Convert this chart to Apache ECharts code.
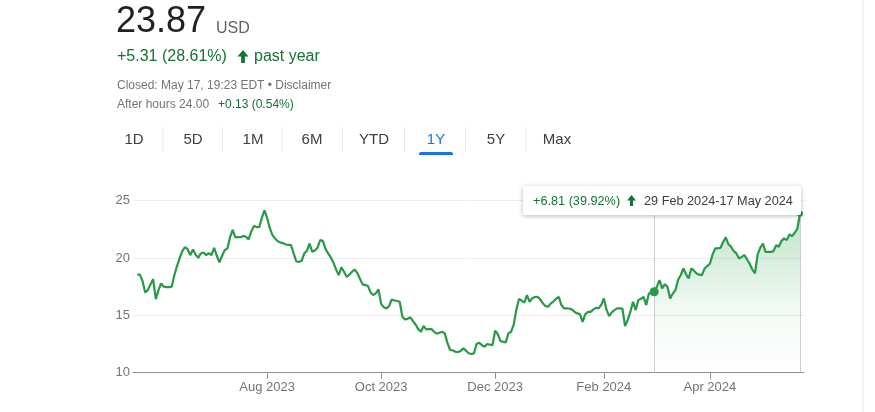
<!DOCTYPE html>
<html>
<head>
<meta charset="utf-8">
<style>
    html, body { margin: 0; padding: 0; background: #fff; }
    #main { width: 875px; height: 412px; }
</style>
</head>
<body>
<div id="main"></div>
<script src="https://cdn.jsdelivr.net/npm/echarts@6/dist/echarts.min.js"></script>
<script type="text/javascript">
    // closes, one per trading day, 19 May 2023 .. 17 May 2024
    var closes = [
        18.56, 18.55, 18.0, 17.0, 17.2, 17.7, 18.16, 16.42, 17.2, 17.79,
        17.5, 17.47, 17.47, 17.5, 18.5, 19.3, 20.0, 20.6, 20.95, 20.77,
        20.25, 20.75, 20.3, 20.02, 20.4, 20.49, 20.25, 20.43, 20.25, 20.89,
        20.2, 19.62, 20.2, 20.69, 20.84, 21.8, 22.46, 21.8, 21.82, 21.82,
        21.93, 21.85, 21.62, 22.3, 22.8, 22.7, 22.69, 23.5, 24.15, 23.5,
        22.6, 22.0, 21.7, 21.47, 21.35, 21.3, 21.18, 21.15, 21.12, 20.4,
        19.7, 19.67, 19.75, 20.4, 20.63, 21.27, 20.54, 20.65, 20.9, 21.56,
        21.5, 20.8, 20.4, 20.05, 19.6, 19.0, 18.51, 19.18, 18.8, 18.36,
        18.55, 18.8, 19.0, 18.7, 18.2, 17.7, 17.64, 17.58, 17.0, 16.77,
        16.92, 17.26, 16.0, 15.7, 15.61, 15.8, 16.39, 16.3, 16.25, 16.19,
        14.88, 14.65, 14.7, 14.83, 14.5, 14.2, 13.8, 13.57, 14.07, 13.78,
        13.8, 13.8, 13.57, 13.4, 13.48, 13.57, 13.43, 12.6, 11.98, 11.95,
        11.83, 11.8, 11.9, 12.12, 11.92, 11.7, 11.63, 11.69, 12.5, 12.61,
        12.4, 12.27, 12.5, 12.45, 12.41, 13.66, 13.37, 12.75, 12.7, 12.65,
        13.43, 13.57, 14.2, 15.5, 16.42, 16.3, 16.1, 16.77, 16.19, 16.5,
        16.6, 16.62, 16.4, 16.05, 15.8, 15.75, 16.05, 16.2, 16.45, 16.62,
        15.9, 15.61, 15.61, 15.6, 15.5, 15.3, 15.17, 15.11, 14.44, 15.1,
        15.31, 15.31, 15.5, 15.66, 15.61, 15.9, 16.48, 15.5, 14.94, 15.26,
        15.45, 15.61, 15.61, 15.6, 14.07, 14.6, 15.3, 16.19, 15.46, 16.33,
        16.45, 16.62, 15.9, 16.92, 16.95, 17.06, 17.5, 18.07, 17.35, 17.72,
        17.49, 16.48, 16.9, 17.2, 18.1, 18.5, 19.09, 18.6, 18.22, 19.09,
        18.9, 18.66, 18.55, 18.51, 19.09, 19.3, 19.5, 20.3, 20.84, 20.84,
        20.9, 21.4, 21.8, 21.2, 20.98, 20.6, 20.4, 19.96, 20.1, 20.25,
        19.9, 19.5, 19.0, 18.66, 20.3, 20.9, 21.27, 20.54, 20.54, 20.54,
        20.6, 21.12, 20.98, 21.5, 21.71, 21.56, 22.06, 21.91, 22.2, 22.58,
        23.87
    ];
    var firstDay = '2023-05-19';
    var lastDay = '2024-05-17';
    var holidays = ['2023-05-29', '2023-06-19', '2023-07-04', '2023-09-04', '2023-11-23',
        '2023-12-25', '2024-01-01', '2024-01-15', '2024-02-19', '2024-03-29'];
    var tickMonths = ['2023-08', '2023-10', '2023-12', '2024-02', '2024-04'];
    var tickLabels = ['Aug 2023', 'Oct 2023', 'Dec 2023', 'Feb 2024', 'Apr 2024'];
    var yTicks = [10, 15, 20, 25];
    var ranges = ['1D', '5D', '1M', '6M', 'YTD', '1Y', '5Y', 'Max'];
    var activeRange = '1Y';
    var rangeStart = '2024-02-29';
    var afterHours = 24.00;

    // trading days (weekdays minus market holidays)
    var dates = [];
    var d = new Date(firstDay + 'T12:00:00Z');
    var end = new Date(lastDay + 'T12:00:00Z');
    while (d <= end) {
        var s = d.toISOString().slice(0, 10);
        var wd = d.getUTCDay();
        if (wd !== 0 && wd !== 6 && holidays.indexOf(s) < 0) dates.push(s);
        d.setUTCDate(d.getUTCDate() + 1);
    }

    var tickIdx = tickMonths.map(function (m) {
        for (var i = 0; i < dates.length; i++) if (dates[i].indexOf(m) === 0) return i;
        return -1;
    });
    var last = closes.length - 1;
    var startIdx = dates.indexOf(rangeStart);
    var linePts = closes.map(function (v, i) { return [i, v]; });
    var areaPts = linePts.slice(startIdx);

    function fmtChange(a, b) {
        var c = b - a;
        return (c >= 0 ? '+' : '') + c.toFixed(2) + ' (' + (c / a * 100).toFixed(2) + '%)';
    }
    var MON = ['Jan', 'Feb', 'Mar', 'Apr', 'May', 'Jun', 'Jul', 'Aug', 'Sep', 'Oct', 'Nov', 'Dec'];
    function fmtDay(s) {
        var p = s.split('-');
        return (+p[2]) + ' ' + MON[+p[1] - 1] + ' ' + p[0];
    }

    var FONT = "'Liberation Sans', Arial, sans-serif";
    var GREEN = '#137333';
    var GREY = '#70757a';
    var LINE = '#289a46';

    // small up-arrow icon, w wide, h tall, top-left at (x, y)
    function arrow(x, y, w, h, z) {
        var sw = w * 0.34, hh = h * 0.5;
        return {
            type: 'polygon', z: z || 0,
            shape: {points: [[x + w / 2, y], [x + w, y + hh], [x + w / 2 + sw / 2, y + hh], [x + w / 2 + sw / 2, y + h],
                [x + w / 2 - sw / 2, y + h], [x + w / 2 - sw / 2, y + hh], [x, y + hh]]},
            style: {fill: GREEN}
        };
    }

    // header + range tabs
    var graphics = [
        {type: 'text', x: 116, y: 22, style: {text: closes[last].toFixed(2), fill: '#202124', font: '36px ' + FONT, textVerticalAlign: 'middle'}},
        {type: 'text', x: 216, y: 29, style: {text: 'USD', fill: '#5f6368', font: '16px ' + FONT, textVerticalAlign: 'middle'}},
        {type: 'text', x: 117, y: 57, style: {text: fmtChange(closes[0], closes[last]), fill: GREEN, font: '16px ' + FONT, textVerticalAlign: 'middle'}},
        arrow(237.5, 50, 11, 13),
        {type: 'text', x: 254, y: 57, style: {text: 'past year', fill: GREEN, font: '16px ' + FONT, textVerticalAlign: 'middle'}},
        {type: 'text', x: 117, y: 86, style: {text: 'Closed: May 17, 19:23 EDT • Disclaimer', fill: GREY, font: '12px ' + FONT, textVerticalAlign: 'middle'}},
        {type: 'text', x: 117, y: 105, style: {text: 'After hours ' + afterHours.toFixed(2) + ' ', fill: GREY, font: '12px ' + FONT, textVerticalAlign: 'middle'}},
        {type: 'text', x: 218, y: 105, style: {text: fmtChange(closes[last], afterHours), fill: GREEN, font: '12px ' + FONT, textVerticalAlign: 'middle'}},
        {type: 'line', shape: {x1: 863, y1: 0, x2: 863, y2: 412}, style: {stroke: '#e8eaed', lineWidth: 1}}
    ];
    var tabX = [134, 193, 253, 312, 374, 436, 496, 557];
    ranges.forEach(function (r, i) {
        var on = r === activeRange;
        graphics.push({type: 'text', x: tabX[i], y: 140, style: {text: r, fill: on ? '#1a73e8' : '#3c4043', font: '15px ' + FONT, textAlign: 'center', textVerticalAlign: 'middle'}});
        if (i < ranges.length - 1) {
            var sx = (tabX[i] + tabX[i + 1]) / 2 - 0.5;
            graphics.push({type: 'line', shape: {x1: sx, y1: 127, x2: sx, y2: 152}, style: {stroke: '#e8eaed', lineWidth: 1}});
        }
        if (on) graphics.push({type: 'rect', shape: {x: tabX[i] - 17, y: 152, width: 34, height: 3, r: [2, 2, 0, 0]}, style: {fill: '#1a73e8'}});
    });

    // range box over the chart
    var bx = 523, by = 186;
    graphics.push(
        {type: 'rect', z: 100, shape: {x: bx, y: by, width: 278, height: 29, r: 2}, style: {fill: '#fff', shadowBlur: 5, shadowOffsetY: 1, shadowColor: 'rgba(0,0,0,0.28)'}},
        {type: 'text', z: 101, x: bx + 10, y: by + 15, style: {text: fmtChange(closes[startIdx], closes[last]), fill: GREEN, font: '12.7px ' + FONT, textVerticalAlign: 'middle'}},
        arrow(bx + 104, by + 9, 9, 11, 101),
        {type: 'text', z: 101, x: bx + 121, y: by + 15, style: {text: fmtDay(dates[startIdx]) + '-' + fmtDay(dates[last]), fill: '#3c4043', font: '12.7px ' + FONT, textVerticalAlign: 'middle'}}
    );

    var myChart = echarts.init(document.getElementById('main'));
    var option = {
        animation: false,
        grid: {left: 133, right: 71, top: 200.7, bottom: 39.3, containLabel: false},
        xAxis: {
            type: 'value',
            min: -1.6,
            max: last + 1.5,
            axisLine: {show: true, lineStyle: {color: '#8a8f94', width: 1}},
            axisTick: {show: true, length: 6, customValues: tickIdx, lineStyle: {color: '#8a8f94'}},
            axisLabel: {
                customValues: tickIdx, margin: 8, color: GREY, fontSize: 13, fontFamily: FONT,
                formatter: function (v) { return tickLabels[tickIdx.indexOf(v)] || ''; }
            },
            splitLine: {show: false}
        },
        yAxis: {
            type: 'value',
            min: yTicks[0],
            max: yTicks[yTicks.length - 1],
            interval: 5,
            axisLine: {show: false},
            axisTick: {show: false},
            axisLabel: {color: GREY, fontSize: 13, fontFamily: FONT, margin: 3},
            splitLine: {lineStyle: {color: '#eceef0', width: 1}}
        },
        series: [
            {
                type: 'line',
                data: areaPts,
                symbol: 'none',
                lineStyle: {width: 0},
                areaStyle: {
                    origin: 'start',
                    color: new echarts.graphic.LinearGradient(0, 0, 0, 1, [
                        {offset: 0, color: 'rgba(52,168,83,0.45)'},
                        {offset: 0.6, color: 'rgba(52,168,83,0.09)'},
                        {offset: 1, color: 'rgba(52,168,83,0)'}
                    ])
                },
                silent: true,
                z: 1
            },
            {
                type: 'line',
                data: linePts,
                symbol: 'none',
                lineStyle: {color: LINE, width: 2.2},
                markLine: {
                    silent: true,
                    symbol: 'none',
                    label: {show: false},
                    lineStyle: {color: '#9aa0a6', type: 'dotted', width: 1},
                    data: [{xAxis: startIdx}, {xAxis: last}]
                },
                z: 3
            },
            {
                type: 'scatter',
                data: [[startIdx, closes[startIdx]], [last, closes[last]]],
                symbolSize: function (v, p) { return p.dataIndex === 0 ? 9 : 6; },
                itemStyle: {color: LINE, opacity: 1},
                silent: true,
                z: 10
            }
        ],
        graphic: graphics
    };
    myChart.setOption(option);
</script>
</body>
</html>
